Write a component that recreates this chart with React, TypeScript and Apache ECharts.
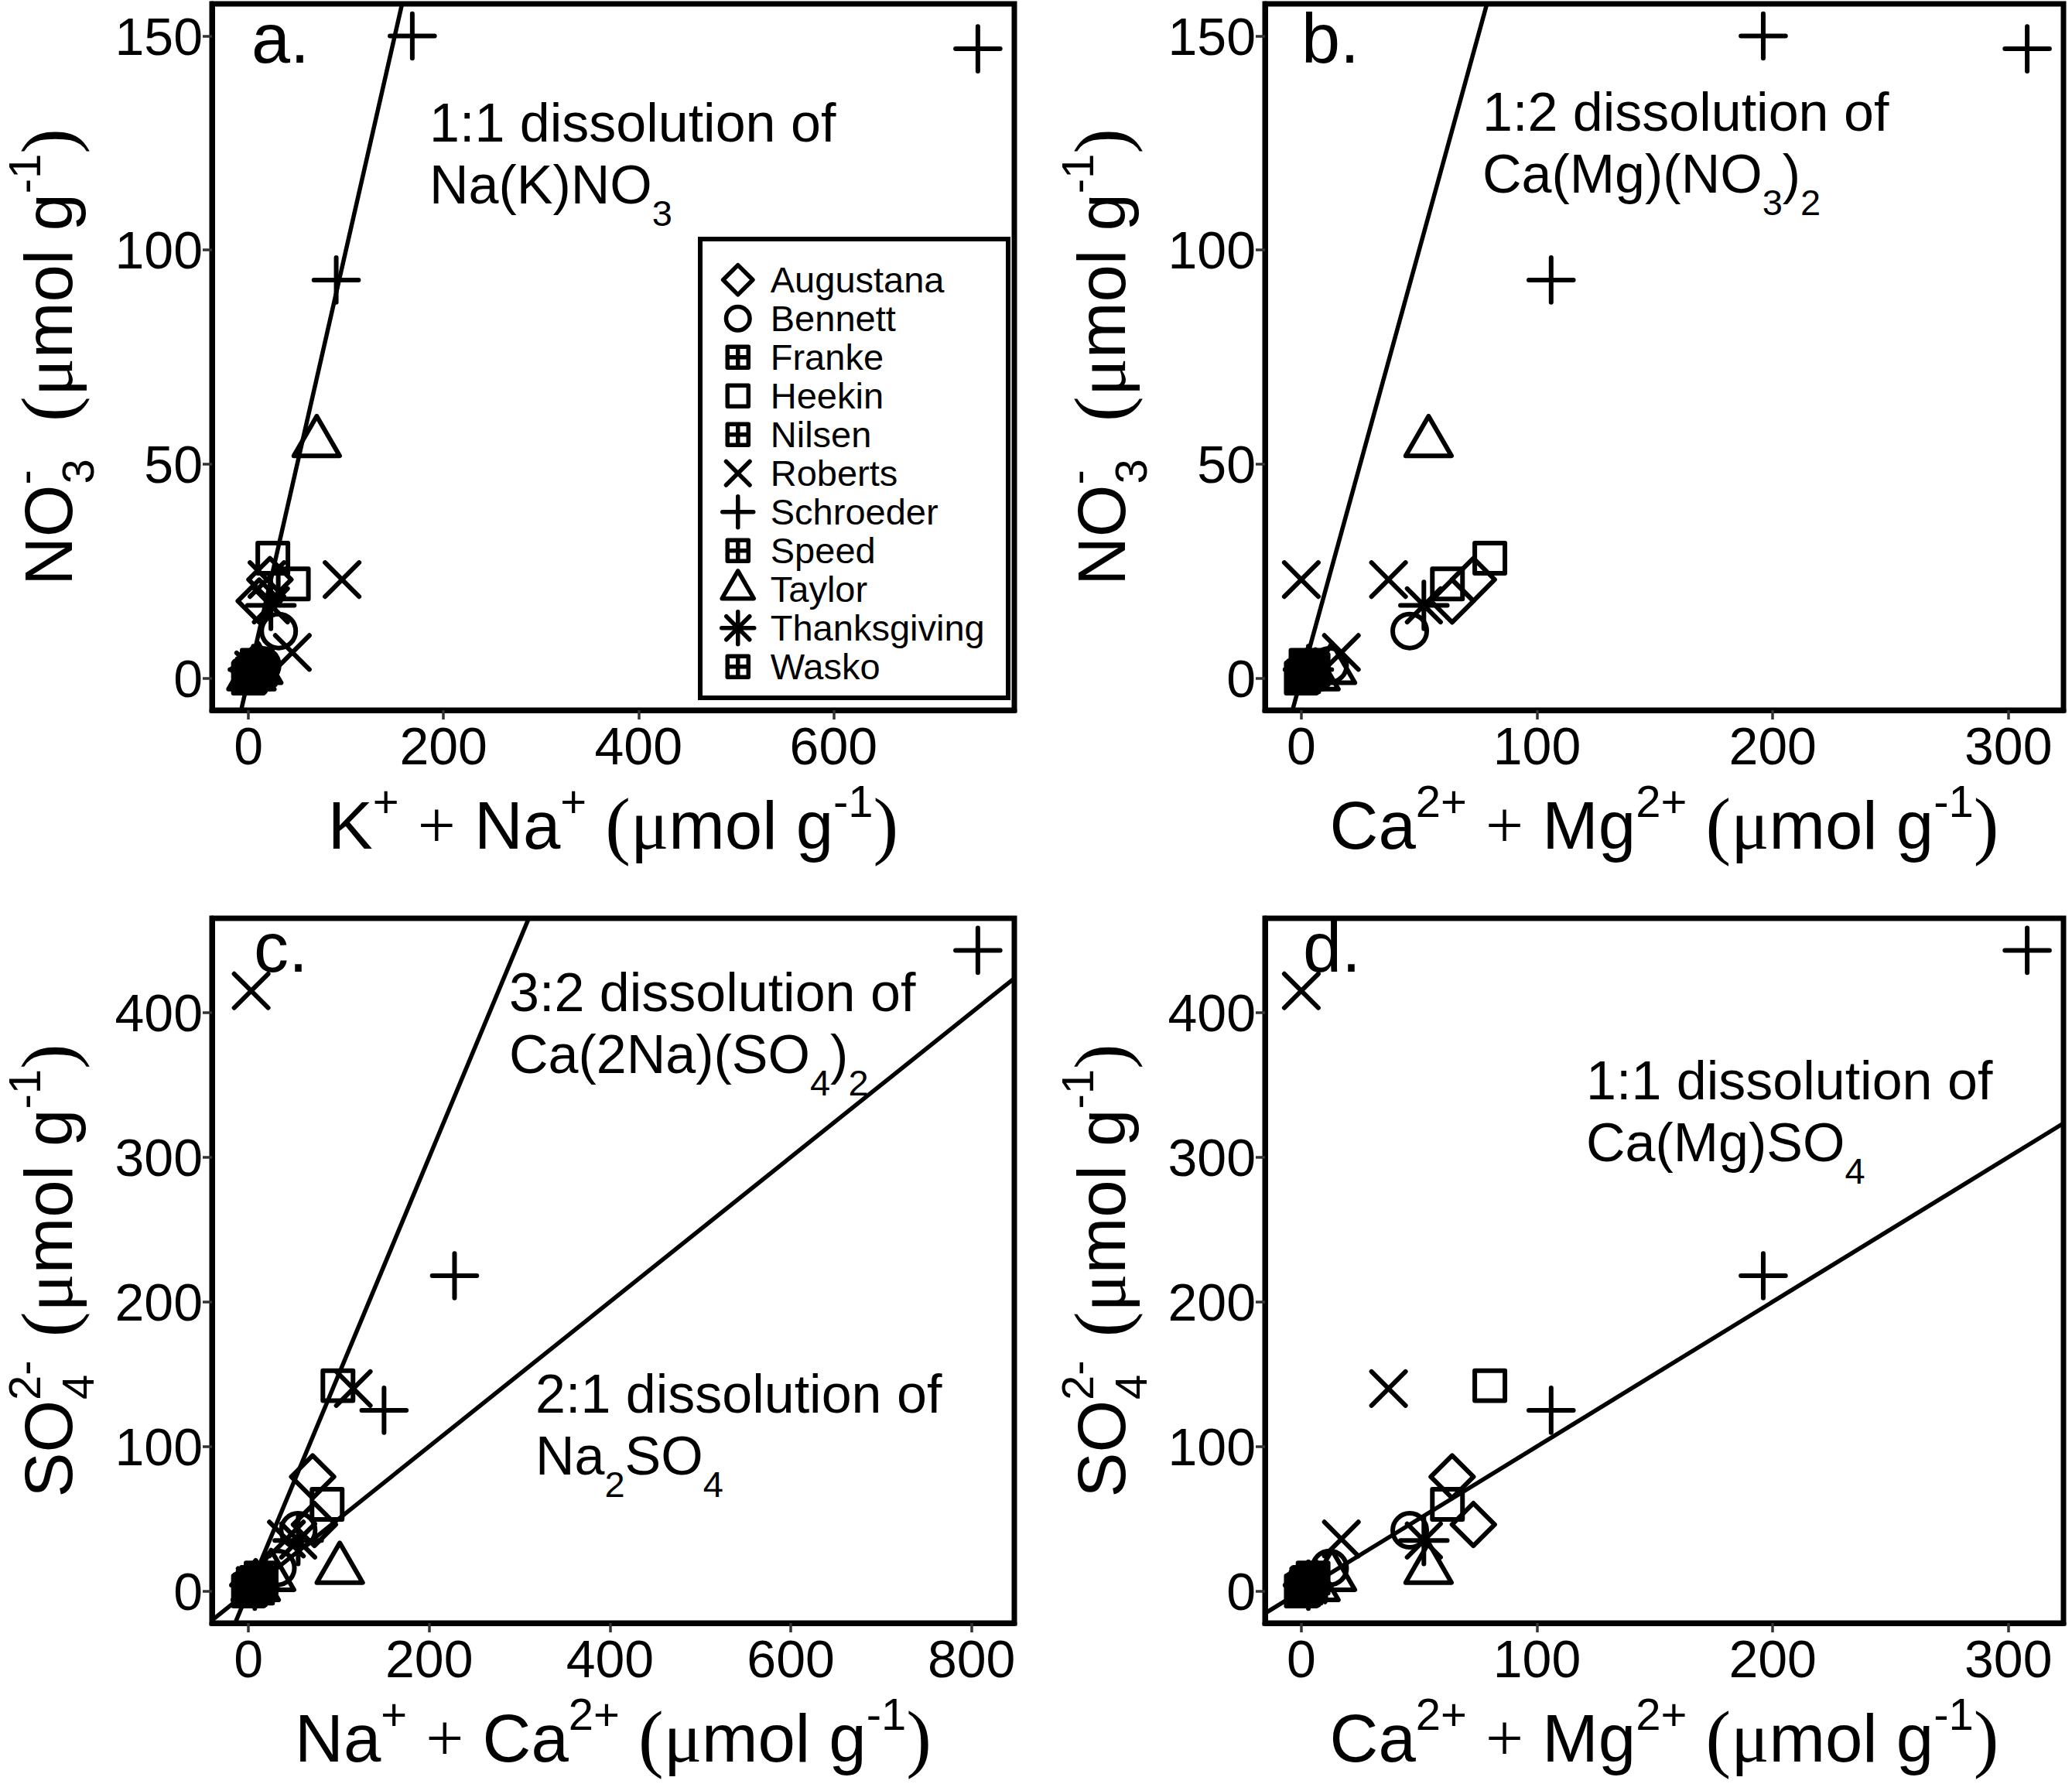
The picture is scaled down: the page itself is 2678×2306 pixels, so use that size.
import React, { useEffect, useRef } from 'react';
import * as echarts from 'echarts';

const SANS = '"Liberation Sans", Arial, sans-serif';
const SERIF = '"Liberation Serif", "Times New Roman", serif';

// Sites (legend order)
const siteNames = ['Augustana', 'Bennett', 'Franke', 'Heekin', 'Nilsen', 'Roberts', 'Schroeder', 'Speed', 'Taylor', 'Thanksgiving', 'Wasko'];

// Each sample: [K+ + Na+, Ca2+ + Mg2+, Na+ + Ca2+, NO3-, SO4 2-]  (umol g-1)
const augustana = [[11, 64, 71, 18, 79], [22, 73, 73, 23, 46], [4, 3, 6, 2, 5]];
const bennett = [[31, 46, 55, 11, 42], [14, 12, 32, 3, 16], [3, 2, 4, 1, 2]];
const franke = [[2, 1, 2, 0.5, 1], [6, 3, 8, 1, 4], [0, 0, 0, 0, 0]];
const heekin = [[25, 80, 99, 28, 142], [46, 62, 87, 22, 60], [8, 4, 10, 2, 6]];
const nilsen = [[1, 0.5, 1, 0.2, 0.5], [9, 2, 10, 3, 2]];
const roberts = [[96, 37, 116, 23, 140], [19, 0, 3, 23, 415], [45, 17, 42, 6, 36]];
const schroeder = [[168, 196, 228, 150, 218], [748, 308, 807, 147, 443], [90, 106, 150, 93, 125]];
const speed = [[4, 2, 5, 1, 3], [12, 5, 14, 2, 9]];
const taylor = [[70, 54, 101, 55, 15], [10, 13, 25, 2, 10], [3, 6, 8, 0.5, 3]];
const thanksgiving = [[23, 52, 55, 17, 35], [5, 3, 7, 2, 4]];
const wasko = [[7, 3, 9, 2, 6], [1, 1, 2, 0.3, 1]];

const siteData = [augustana, bennett, franke, heekin, nilsen, roberts, schroeder, speed, taylor, thanksgiving, wasko];

// Tick labels
const ticksKNa = [0, 200, 400, 600];
const ticksCaMg = [0, 100, 200, 300];
const ticksNaCa = [0, 200, 400, 600, 800];
const ticksNO3 = [0, 50, 100, 150];
const ticksSO4 = [0, 100, 200, 300, 400];

// Dissolution stoichiometry lines (slopes)
const slopesA = [1];
const slopesB = [2];
const slopesC = [1.5, 0.5];
const slopesD = [1];

// Symbol glyphs (R pch shapes) in a [-1,1] box
const A = 'M-1,-1M1,1';
const shapeDiamond = 'path://' + A + 'M0,-0.766L0.766,0L0,0.766L-0.766,0Z';
const shapeCircle = 'path://' + A + 'M0.611,0A0.611,0.611,0,1,1,-0.611,0A0.611,0.611,0,1,1,0.611,0Z';
const shapeSquare = 'path://' + A + 'M-0.541,-0.541L0.541,-0.541L0.541,0.541L-0.541,0.541Z';
const shapeSqPlus = shapeSquare + 'M0,-0.541L0,0.541M-0.541,0L0.541,0';
const shapeCross = 'path://' + A + 'M-0.611,-0.611L0.611,0.611M-0.611,0.611L0.611,-0.611';
const shapePlus = 'path://' + A + 'M-0.8,0L0.8,0M0,-0.8L0,0.8';
const shapeTri = 'path://' + A + 'M0,-0.95L0.823,0.475L-0.823,0.475Z';
const shapeAst = 'path://' + A + 'M-0.84,0L0.84,0M0,-0.84L0,0.84M-0.6,-0.6L0.6,0.6M-0.6,0.6L0.6,-0.6';
const siteShapes = [shapeDiamond, shapeCircle, shapeSqPlus, shapeSquare, shapeSqPlus, shapeCross, shapePlus, shapeSqPlus, shapeTri, shapeAst, shapeSqPlus];

function extent(col: number): [number, number] {
  let lo = Infinity;
  let hi = -Infinity;
  siteData.forEach((s) => s.forEach((r) => { lo = Math.min(lo, r[col]); hi = Math.max(hi, r[col]); }));
  const pad = (hi - lo) * 0.05;
  return [lo - pad, hi + pad];
}

const UNIT = '{m| }{p|(}{g|μ}{m|mol g}{u|-1}{p|)}';
const xNameKNa = '{m|K}{u|+}{m| }{s|+}{m| Na}{u|+}' + UNIT;
const xNameCaMg = '{m|Ca}{u|2+}{m| }{s|+}{m| Mg}{u|2+}' + UNIT;
const xNameNaCa = '{m|Na}{u|+}{m| }{s|+}{m| Ca}{u|2+}' + UNIT;
const yNameNO3 = '{m|NO}{z|-}{d|3}{m| }' + UNIT;
const yNameSO4 = '{m|SO}{z|2-}{d|4}{m| }' + UNIT;

const tok = (o: any) => ({ color: '#000', fill: '#000', align: 'left', ...o });
const titleRich = {
  m: tok({ fontSize: 87, fontFamily: SANS, lineHeight: 100 }),
  u: tok({ fontSize: 58, fontFamily: SANS, lineHeight: 10, padding: [0, 0, 62, 0] }),
  d: tok({ fontSize: 58, fontFamily: SANS, lineHeight: 10, padding: [76, 0, 0, 0] }),
  z: tok({ fontSize: 58, fontFamily: SANS, lineHeight: 10, padding: [0, 0, 62, 0], width: 1 }),
  s: tok({ fontSize: 87, fontFamily: SERIF, lineHeight: 100 }),
  p: tok({ fontSize: 98, fontFamily: SERIF, lineHeight: 100 }),
  g: tok({ fontSize: 92, fontFamily: SERIF, lineHeight: 100 }),
};
const annRich = {
  m: tok({ fontSize: 70, fontFamily: SANS, lineHeight: 80 }),
  d: tok({ fontSize: 47, fontFamily: SANS, lineHeight: 10, padding: [72, 0, 0, 0] }),
};

const panels = [
  { xc: 0, yc: 3, grid: { left: 274, top: 5, width: 1037, height: 913 }, xt: ticksKNa, yt: ticksNO3, slopes: slopesA, xName: xNameKNa, yName: yNameNO3 },
  { xc: 1, yc: 3, grid: { left: 1635, top: 5, width: 1032, height: 913 }, xt: ticksCaMg, yt: ticksNO3, slopes: slopesB, xName: xNameCaMg, yName: yNameNO3 },
  { xc: 2, yc: 4, grid: { left: 274, top: 1187, width: 1037, height: 911 }, xt: ticksNaCa, yt: ticksSO4, slopes: slopesC, xName: xNameNaCa, yName: yNameSO4 },
  { xc: 1, yc: 4, grid: { left: 1635, top: 1187, width: 1032, height: 911 }, xt: ticksCaMg, yt: ticksSO4, slopes: slopesD, xName: xNameCaMg, yName: yNameSO4 },
];

const annotations = [
  { x: 555, y: 119, text: '{m|1:1 dissolution of}\n{m|Na(K)NO}{d|3}' },
  { x: 1916, y: 105, text: '{m|1:2 dissolution of}\n{m|Ca(Mg)(NO}{d|3}{m|)}{d|2}' },
  { x: 658, y: 1243, text: '{m|3:2 dissolution of}\n{m|Ca(2Na)(SO}{d|4}{m|)}{d|2}' },
  { x: 692, y: 1762, text: '{m|2:1 dissolution of}\n{m|Na}{d|2}{m|SO}{d|4}' },
  { x: 2050, y: 1357, text: '{m|1:1 dissolution of}\n{m|Ca(Mg)SO}{d|4}' },
];
const panelLabels = [
  { x: 325, y: 50, text: 'a.' },
  { x: 1682, y: 50, text: 'b.' },
  { x: 328, y: 1225, text: 'c.' },
  { x: 1684, y: 1225, text: 'd.' },
];

// Legend box layout (in panel a)
const legendBox = { x: 905, y: 309, width: 398, height: 593 };
const legendItemLeft = 926;
const legendFirstTop = 334;
const legendPitch = 50;

function buildOption() {
  const grids: any[] = [];
  const xAxes: any[] = [];
  const yAxes: any[] = [];
  const series: any[] = [];
  panels.forEach((p, i) => {
    const xr = extent(p.xc);
    const yr = extent(p.yc);
    grids.push({ ...p.grid, show: true, borderColor: '#000', borderWidth: 7, backgroundColor: 'transparent', containLabel: false, outerBoundsMode: 'none' });
    const common = (ticks: number[]) => ({
      type: 'value',
      gridIndex: i,
      axisLine: { show: true, onZero: false, lineStyle: { color: '#000', width: 7 } },
      axisTick: { show: true, inside: false, length: 12, customValues: ticks, lineStyle: { color: '#333', width: 3.5 } },
      axisLabel: { show: true, customValues: ticks, fontSize: 68, color: '#000', fontFamily: SANS, margin: 12 },
      splitLine: { show: false },
      nameLocation: 'middle',
      nameTextStyle: { rich: titleRich, color: '#000' },
    });
    xAxes.push({ ...common(p.xt), min: xr[0], max: xr[1], name: p.xName, nameGap: 98 });
    yAxes.push({ ...common(p.yt), min: yr[0], max: yr[1], name: p.yName, nameGap: 162 });
    p.slopes.forEach((k) => {
      series.push({
        type: 'line', xAxisIndex: i, yAxisIndex: i, symbol: 'none', silent: true, clip: true, z: 1,
        lineStyle: { color: '#000', width: 5.5 },
        data: [[xr[0], k * xr[0]], [xr[1], k * xr[1]]],
      });
    });
    siteData.forEach((rows, s) => {
      series.push({
        type: 'scatter', name: siteNames[s], xAxisIndex: i, yAxisIndex: i,
        symbol: siteShapes[s], symbolSize: 72, symbolKeepAspect: true, silent: true, z: 3,
        emphasis: { disabled: true },
        itemStyle: { color: 'transparent', borderColor: '#000', borderWidth: 6, borderCap: 'round', borderJoin: 'round', opacity: 1 },
        data: rows.map((r) => [r[p.xc], r[p.yc]]),
      });
    });
  });
  const graphic: any[] = [];
  graphic.push({
    type: 'rect', z: 15,
    shape: { x: legendBox.x, y: legendBox.y, width: legendBox.width, height: legendBox.height },
    style: { fill: '#fff', stroke: '#000', lineWidth: 6 },
  });
  annotations.forEach((a) => {
    graphic.push({ type: 'text', x: a.x, y: a.y, z: 10, style: { text: a.text, rich: annRich, align: 'left', verticalAlign: 'top', fill: '#000' } });
  });
  panelLabels.forEach((l) => {
    graphic.push({ type: 'text', x: l.x, y: l.y, z: 10, style: { text: l.text, fontSize: 90, fontFamily: SANS, fill: '#000', align: 'left', verticalAlign: 'middle' } });
  });
  const legends = siteNames.map((n, i) => ({
    show: true, orient: 'vertical', left: legendItemLeft, top: legendFirstTop + legendPitch * i,
    itemWidth: 74, itemHeight: 50, itemGap: 0, padding: 0,
    selectedMode: false, symbolKeepAspect: true, z: 20,
    data: [{ name: n, icon: siteShapes[i] }],
    itemStyle: { color: 'transparent', borderColor: '#000', borderWidth: 5.5, borderCap: 'round', borderJoin: 'round' },
    textStyle: { fontSize: 47, color: '#000', fontFamily: SANS },
  }));
  return {
    animation: false,
    backgroundColor: '#fff',
    grid: grids,
    xAxis: xAxes,
    yAxis: yAxes,
    series,
    graphic,
    legend: legends,
  };
}

export default function App() {
  const ref = useRef<HTMLDivElement>(null);
  useEffect(() => {
    if (!ref.current) return;
    const chart = echarts.init(ref.current, undefined, { renderer: 'svg' });
    chart.setOption(buildOption() as any);
    return () => chart.dispose();
  }, []);
  return <div ref={ref} style={{ position: 'fixed', left: 0, top: 0, width: 2678, height: 2306, background: '#fff' }} />;
}
